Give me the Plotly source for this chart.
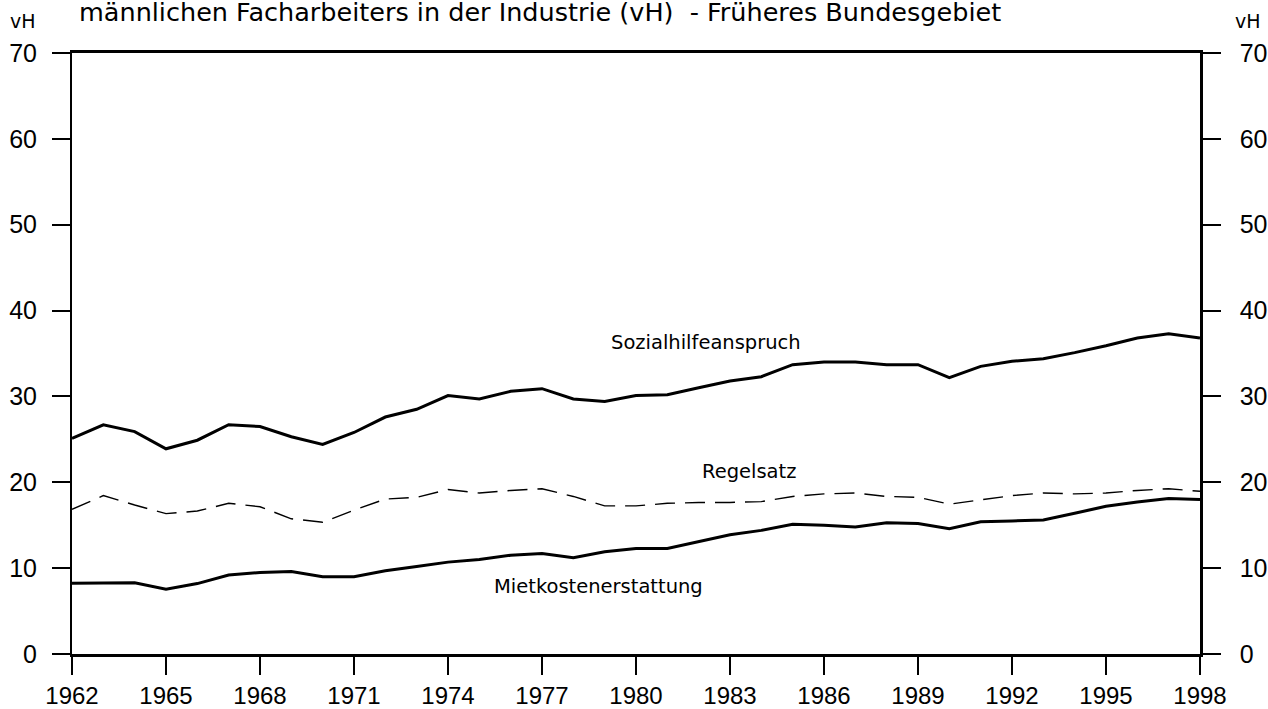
import plotly.graph_objects as go

years = list(range(1962, 1999))
sozialhilfe = [25.1, 26.7, 25.9, 23.9, 24.9, 26.7, 26.5, 25.3, 24.4, 25.8, 27.6, 28.5, 30.1,
               29.7, 30.6, 30.9, 29.7, 29.4, 30.1, 30.2, 31.0, 31.8, 32.3, 33.7, 34.0,
               34.0, 33.7, 33.7, 32.2, 33.5, 34.1, 34.4, 35.1, 35.9, 36.8, 37.3, 36.8]
regelsatz = [16.85, 18.45, 17.35, 16.35, 16.65, 17.55, 17.15, 15.75, 15.35, 16.75, 18.05, 18.25, 19.15,
             18.75, 19.05, 19.25, 18.35, 17.25, 17.25, 17.55, 17.65, 17.65, 17.75, 18.35, 18.65,
             18.75, 18.35, 18.25, 17.45, 17.95, 18.45, 18.75, 18.65, 18.75, 19.05, 19.25, 18.95]
mietkosten = [8.25, 8.3, 8.3, 7.55, 8.2, 9.2, 9.5, 9.6, 9.0, 9.0, 9.7, 10.2, 10.7,
              11.0, 11.5, 11.7, 11.2, 11.9, 12.3, 12.3, 13.1, 13.9, 14.4, 15.1, 15.0,
              14.8, 15.3, 15.2, 14.6, 15.4, 15.5, 15.6, 16.4, 17.2, 17.7, 18.1, 18.0]
x_ticks = list(range(1962, 1999, 3))
y_ticks = [0, 10, 20, 30, 40, 50, 60, 70]
y_ticktext_right = ["\u00a0\u00a0" + str(v) for v in y_ticks]

FONT = "Liberation Sans, Arial, sans-serif"
TFONT = "DejaVu Sans, Liberation Sans, sans-serif"

# screen-pixel helpers (body margin removed below)
PL, PR, PT, PB = 72, 1200, 53, 654
PW, PH = PR - PL, PB - PT


def px(X):
    return (X - PL) / PW


def py(Y):
    return (PB - Y) / PH


fig = go.Figure()
fig.add_trace(go.Scatter(x=years, y=sozialhilfe, mode="lines",
                         line=dict(color="black", width=3), showlegend=False))
fig.add_trace(go.Scatter(x=years, y=regelsatz, mode="lines",
                         line=dict(color="black", width=1.4, dash="20px,10px"), showlegend=False))
fig.add_trace(go.Scatter(x=years, y=mietkosten, mode="lines",
                         line=dict(color="black", width=3), showlegend=False))
fig.add_trace(go.Scatter(x=[years[0], years[-1]], y=[0, 0], mode="lines", yaxis="y2",
                         line=dict(color="rgba(0,0,0,0)", width=0), showlegend=False,
                         hoverinfo="skip"))

fig.update_layout(
    width=1268, height=709,
    margin=dict(l=PL, r=1268 - PR, t=PT, b=709 - PB),
    paper_bgcolor="white", plot_bgcolor="white",
    font=dict(family=FONT, color="black"),
    xaxis=dict(range=[1962, 1998], tickvals=x_ticks, ticks="outside", ticklen=18,
               tickwidth=1.5, tickcolor="black", showline=True, linecolor="black",
               linewidth=2.5, mirror=True, showgrid=False, zeroline=False, automargin=False,
               tickfont=dict(size=24, family=FONT)),
    yaxis=dict(range=[0, 70], tickvals=y_ticks, ticks="outside", ticklen=18,
               tickwidth=2, tickcolor="black", showline=True, linecolor="black",
               linewidth=2, showgrid=False, zeroline=False, ticklabelstandoff=10,
               automargin=False, tickfont=dict(size=25, family=FONT)),
    yaxis2=dict(range=[0, 70], tickvals=y_ticks, ticktext=y_ticktext_right,
                ticks="outside", ticklen=18,
                tickwidth=2, tickcolor="black", showline=True, linecolor="black",
                linewidth=2.5, showgrid=False, zeroline=False, overlaying="y",
                side="right", automargin=False,
                tickfont=dict(size=25, family=FONT)),
    annotations=[
        dict(text="männlichen Facharbeiters in der Industrie (vH)  - Früheres Bundesgebiet",
             xref="paper", yref="paper", x=px(77), y=py(12),
             xanchor="left", yanchor="middle", showarrow=False,
             font=dict(size=25.5, family=TFONT)),
        dict(text="vH", xref="paper", yref="paper", x=px(23), y=py(21),
             xanchor="center", yanchor="middle", showarrow=False, font=dict(size=19, family=TFONT)),
        dict(text="vH", xref="paper", yref="paper", x=px(1248), y=py(21),
             xanchor="center", yanchor="middle", showarrow=False, font=dict(size=19, family=TFONT)),
        dict(text="Sozialhilfeanspruch", x=1982.24, y=36.3, xref="x", yref="y",
             showarrow=False, font=dict(size=19.5, family=TFONT)),
        dict(text="Regelsatz", x=1983.6, y=21.2, xref="x", yref="y",
             showarrow=False, font=dict(size=19.5, family=TFONT)),
        dict(text="Mietkostenerstattung", x=1978.8, y=7.9, xref="x", yref="y",
             showarrow=False, font=dict(size=19.5, family=TFONT)),
    ],
)

fig.write_html("out.html", config={"displayModeBar": False},
               post_script="document.body.style.margin='0';document.body.style.overflow='hidden';")
